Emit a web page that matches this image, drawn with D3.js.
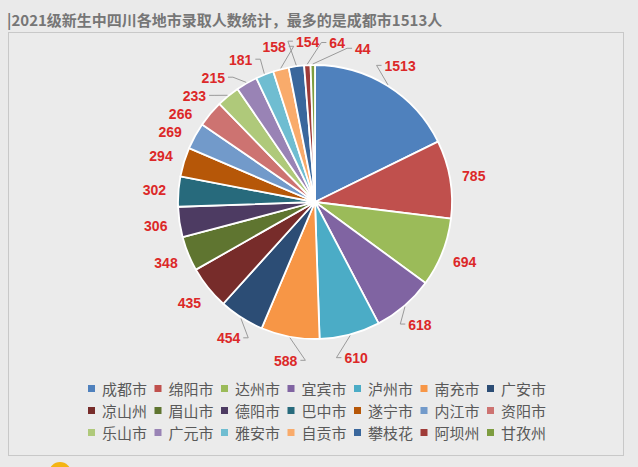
<!DOCTYPE html>
<html>
<head>
<meta charset="utf-8">
<script src="https://cdn.jsdelivr.net/npm/d3@7"></script>
<style>
  html, body { margin: 0; padding: 0; background: #eaeaea; }
  svg { display: block; }
</style>
</head>
<body>
<svg id="chart" width="638" height="467"></svg>
<script>
// ---- data ----
const titleText = "|2021级新生中四川各地市录取人数统计，最多的是成都市1513人";
const categories = ["成都市","绵阳市","达州市","宜宾市","泸州市","南充市","广安市",
                    "凉山州","眉山市","德阳市","巴中市","遂宁市","内江市","资阳市",
                    "乐山市","广元市","雅安市","自贡市","攀枝花","阿坝州","甘孜州"];
const values = [1513,785,694,618,610,588,454,435,348,306,302,294,269,266,233,215,181,158,154,64,44];
const colors = ["#4F81BD","#C0504D","#9BBB59","#8064A2","#4BACC6","#F79646","#2C4D75",
                "#772C2A","#5F7530","#4D3B62","#276A7C","#B65708","#729ACA","#CD7371",
                "#AFC97A","#9983B5","#6FBDD1","#F9AB6B","#3A679C","#9F3B38","#7E9D40"];

// ---- layout ----
const W = 638, H = 467;
const cx = 315, cy = 202, R = 137, labelR = 161;
const svg = d3.select("#chart");

// background panel
svg.append("rect").attr("x", 0).attr("y", 0).attr("width", W).attr("height", H).attr("fill", "#eaeaea");
svg.append("rect").attr("x", 8.5).attr("y", 32.5).attr("width", 615).attr("height", 423)
   .attr("fill", "#ebebeb").attr("stroke", "#c8c8c8").attr("stroke-width", 1);
// decorative orange dot at bottom edge
svg.append("circle").attr("cx", 60).attr("cy", 473).attr("r", 11).attr("fill", "#f4b414");

// title
svg.append("text").attr("x", 7).attr("y", 26)
   .attr("font-family", "'Noto Sans CJK SC', 'Noto Sans', sans-serif")
   .attr("font-size", 15).attr("font-weight", "bold").attr("fill", "#767676")
   .text(titleText);

// pie
const pie = d3.pie().sort(null).value(d => d).startAngle(0).endAngle(2 * Math.PI);
const arcs = pie(values);
const arc = d3.arc().innerRadius(0).outerRadius(R);
const g = svg.append("g").attr("transform", `translate(${cx},${cy})`);
g.selectAll("path.slice").data(arcs).join("path")
  .attr("class", "slice")
  .attr("d", arc)
  .attr("fill", (d, i) => colors[i])
  .attr("stroke", "#ffffff").attr("stroke-width", 1.8).attr("stroke-linejoin", "round");

// labels
const linesG = g.append("g");
const lg = g.append("g");
const labels = arcs.map((d, i) => ({ i, a0: (d.startAngle + d.endAngle) / 2, a: (d.startAngle + d.endAngle) / 2, text: String(values[i]) }));
const texts = lg.selectAll("text").data(labels).join("text")
  .attr("font-family", "'Liberation Sans', Arial, sans-serif")
  .attr("font-size", 14).attr("font-weight", "bold").attr("fill", "#dc2828")
  .attr("text-anchor", "middle").attr("dominant-baseline", "central")
  .text(d => d.text);
texts.each(function (d) { d.w = this.getComputedTextLength(); d.h = 12; });

const pos = l => ({ x: labelR * Math.sin(l.a), y: -labelR * Math.cos(l.a) });
function overlap(p, q) {
  const A = pos(p), B = pos(q);
  return Math.abs(A.x - B.x) < (p.w + q.w) / 2 + 10 && Math.abs(A.y - B.y) < (p.h + q.h) / 2 + 6;
}
const n = labels.length;
for (let it = 0; it < 1000; it++) {
  let moved = false;
  for (let k = 0; k < n; k++) {
    const p = labels[k], q = labels[(k + 1) % n];
    const qa = q.a;
    if (k === n - 1) q.a += 2 * Math.PI;
    const ov = overlap(p, q);
    q.a = qa;
    if (ov) { p.a -= 0.002; q.a += 0.002; moved = true; }
  }
  if (!moved) break;
}
texts.attr("x", d => pos(d).x).attr("y", d => pos(d).y + 0.5);

// leader lines
labels.forEach(l => {
  const P = pos(l);
  const sx = (R + 1) * Math.sin(l.a0), sy = -(R + 1) * Math.cos(l.a0);
  const right = P.x > sx;
  const tx = right ? P.x - l.w / 2 - 3 : P.x + l.w / 2 + 3;
  const ty = P.y;
  const dist = Math.hypot(tx - sx, ty - sy);
  if (dist > 17) {
    const ex = right ? tx - 5 : tx + 5;
    linesG.append("polyline")
      .attr("points", `${sx},${sy} ${ex},${ty} ${tx},${ty}`)
      .attr("fill", "none").attr("stroke", "#9a9a9a").attr("stroke-width", 1);
  }
});

// legend
const cols = 7;
const colX = d3.scaleBand().domain(d3.range(cols)).range([86, 86 + cols * 66.5]);
const rowY = d3.scalePoint().domain(d3.range(3)).range([388.5, 432.5]);
const leg = svg.append("g");
const items = leg.selectAll("g").data(categories).join("g")
  .attr("transform", (d, i) => `translate(${colX(i % cols)},${rowY(Math.floor(i / cols))})`);
items.append("rect").attr("x", 2).attr("y", -3.5).attr("width", 7).attr("height", 7)
  .attr("fill", (d, i) => colors[i]);
items.append("text").attr("x", 16).attr("y", 0)
  .attr("dominant-baseline", "central")
  .attr("font-family", "'Noto Sans CJK SC', sans-serif")
  .attr("font-size", 15).attr("fill", "#595959")
  .text(d => d);
</script>
</body>
</html>
